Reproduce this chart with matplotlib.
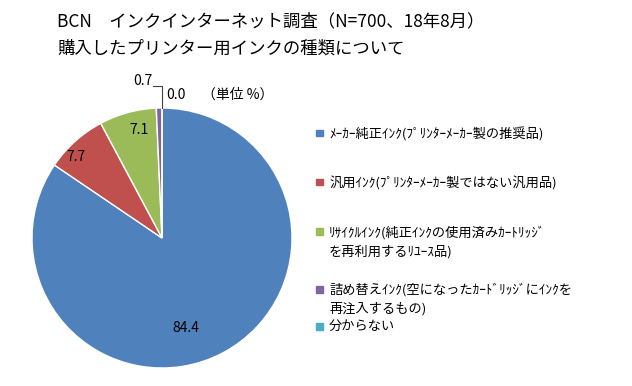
import matplotlib.pyplot as plt
from matplotlib.patches import Rectangle

plt.rcParams['font.family'] = ['Noto Sans CJK JP', 'DejaVu Sans']

labels = ['ﾒｰｶｰ純正ｲﾝｸ(ﾌﾟﾘﾝﾀｰﾒｰｶｰ製の推奨品)',
          '汎用ｲﾝｸ(ﾌﾟﾘﾝﾀｰﾒｰｶｰ製ではない汎用品)',
          'ﾘｻｲｸﾙｲﾝｸ(純正ｲﾝｸの使用済みｶｰﾄﾘｯｼﾞ\nを再利用するﾘﾕｰｽ品)',
          '詰め替えｲﾝｸ(空になったｶｰﾄﾞﾘｯｼﾞにｲﾝｸを\n再注入するもの)',
          '分からない']
values = [84.4, 7.7, 7.1, 0.7, 0.0]
colors = ['#4F81BD', '#C0504D', '#9BBB59', '#8064A2', '#4BACC6']

fig = plt.figure(figsize=(6.32, 3.86), dpi=100)
W, H = 632, 386

fig.text(57 / W, 1 - 21 / H, 'BCN　インクインターネット調査（N=700、18年8月）',
         fontsize=12.5, va='center', ha='left')
fig.text(57 / W, 1 - 49 / H, '購入したプリンター用インクの種類について',
         fontsize=12.5, va='center', ha='left')

# pie: center (162,238), radius 130 px
ax = fig.add_axes([32 / W, 18 / H, 260 / W, 260 / H])
wedges, _ = ax.pie(values, colors=colors, startangle=90, counterclock=False,
                   radius=1, wedgeprops=dict(edgecolor='white', linewidth=1))
ax.set_xlim(-1, 1)
ax.set_ylim(-1, 1)
ax.set_aspect('equal')
ax.axis('off')

# data labels (positions relative to pie radius)
lab_pos = [(0.18, -0.69), (-0.66, 0.62), (-0.18, 0.83), (-0.15, 1.21), (0.11, 1.10)]
for v, (x, y) in zip(values, lab_pos):
    ax.text(x, y, f'{v:.1f}', fontsize=10, ha='center', va='center', clip_on=False)
# leader line for 0.7
ax.plot([-0.07, 0.0, 0.0], [1.17, 1.17, 1.0], color='#404040', lw=0.8, clip_on=False)

ax.text(0.58, 1.10, '（単位 %）', fontsize=10, ha='center', va='center', clip_on=False)

# legend (y of first line of each entry, px from top)
leg_y = [133, 182, 232, 289, 326]
for lab, c, y in zip(labels, colors, leg_y):
    fig.patches.append(Rectangle((316 / W, 1 - (y + 3.5) / H), 7 / W, 7 / H,
                                 transform=fig.transFigure, color=c))
    fig.text(329 / W, 1 - (y - 6) / H, lab, fontsize=9.5, va='top', ha='left',
             linespacing=1.55)

plt.savefig('out.png', dpi=100)
